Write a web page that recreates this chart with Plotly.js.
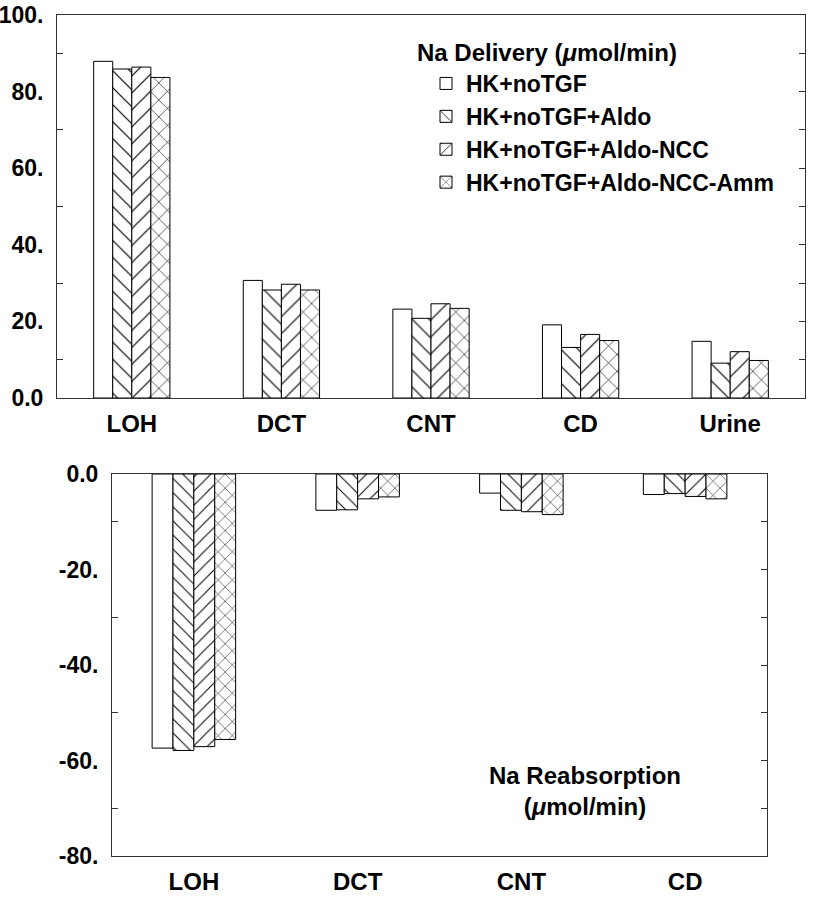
<!DOCTYPE html>
<html>
<head>
<meta charset="utf-8">
<script src="https://cdn.plot.ly/plotly-3.0.1.min.js"></script>
<style>html,body{margin:0;padding:0;background:#fff;}#chart{width:822px;height:898px;}</style>
</head>
<body>
<div id="chart"></div>
<script>
// ---- data ----
const categoriesTop = ['LOH', 'DCT', 'CNT', 'CD', 'Urine'];
const categoriesBottom = ['LOH', 'DCT', 'CNT', 'CD'];
const seriesNames = ['HK+noTGF', 'HK+noTGF+Aldo', 'HK+noTGF+Aldo-NCC', 'HK+noTGF+Aldo-NCC-Amm'];

const deliveryHK          = [87.9, 30.7, 23.2, 19.1, 14.8];
const deliveryAldo        = [85.9, 28.2, 20.8, 13.2, 9.1];
const deliveryAldoNCC     = [86.4, 29.7, 24.6, 16.6, 12.1];
const deliveryAldoNCCAmm  = [83.7, 28.2, 23.4, 15.0, 9.8];

const reabsHK         = [-57.4, -7.6, -4.0, -4.3];
const reabsAldo       = [-57.9, -7.5, -7.6, -4.1];
const reabsAldoNCC    = [-57.1, -5.2, -7.9, -4.7];
const reabsAldoNCCAmm = [-55.6, -4.8, -8.5, -5.2];

const topTickVals = [0, 20, 40, 60, 80, 100];
const topTickText = ['0.0', '20.', '40.', '60.', '80.', '100.'];
const topMinorTicks = [10, 30, 50, 70, 90];
const topRightTicks = [10, 20, 30, 40, 50, 60, 70, 80, 90];

const botTickVals = [-80, -60, -40, -20, 0];
const botTickText = ['-80.', '-60.', '-40.', '-20.', '0.0'];
const botMinorTicks = [-70, -50, -30, -10];
const botRightTicks = [-70, -60, -50, -40, -30, -20, -10];

const legendTitle = 'Na Delivery (<i>μ</i>mol/min)';
const reabsLabel = 'Na Reabsorption<br>(<i>μ</i>mol/min)';

// ---- styles ----
const FONT = 'Liberation Sans, Arial, Helvetica, sans-serif';
const shapes = ['', '\\', '/', 'x'];
const deliverySeries = [deliveryHK, deliveryAldo, deliveryAldoNCC, deliveryAldoNCCAmm];
const reabsSeries = [reabsHK, reabsAldo, reabsAldoNCC, reabsAldoNCCAmm];

function marker(i, size) {
  return {
    color: '#ffffff',
    line: {color: '#000000', width: 1},
    pattern: {shape: shapes[i], size: size, solidity: 0.1, fgcolor: '#000000', bgcolor: '#ffffff'}
  };
}

const traces = [];
seriesNames.forEach((name, i) => {
  traces.push({
    type: 'bar', name: name, x: categoriesTop, y: deliverySeries[i],
    xaxis: 'x', yaxis: 'y', marker: marker(i, 12), legendgroup: name, showlegend: true,
    hoverinfo: 'x+y+name'
  });
});
seriesNames.forEach((name, i) => {
  traces.push({
    type: 'bar', name: name, x: categoriesBottom, y: reabsSeries[i],
    xaxis: 'x2', yaxis: 'y2', marker: marker(i, 10), legendgroup: name, showlegend: false,
    hoverinfo: 'x+y+name'
  });
});
// invisible traces to carry the right-hand tick axes
traces.push({type: 'scatter', mode: 'none', x: categoriesTop, y: deliveryHK, xaxis: 'x', yaxis: 'y3', showlegend: false, hoverinfo: 'skip'});
traces.push({type: 'scatter', mode: 'none', x: categoriesBottom, y: reabsHK, xaxis: 'x2', yaxis: 'y4', showlegend: false, hoverinfo: 'skip'});

const W = 822, H = 898;
const axLine = {showline: true, linecolor: '#333333', linewidth: 1, mirror: true, showgrid: false, zeroline: false};
const tickFont = {family: FONT, size: 23, color: '#000', weight: 'bold'};
const catFont = {family: FONT, size: 24, color: '#000', weight: 'bold'};
const textFont = {family: FONT, size: 24, color: '#000', weight: 'bold'};

const topY = [1 - 398 / H, 1 - 15 / H];
const botY = [1 - 856 / H, 1 - 474 / H];

const layout = {
  width: W, height: H,
  margin: {l: 0, r: 0, t: 0, b: 0},
  paper_bgcolor: '#ffffff', plot_bgcolor: '#ffffff',
  barmode: 'group', bargap: 0.49, bargroupgap: 0,
  font: {family: FONT, color: '#000'},
  xaxis: Object.assign({}, axLine, {
    domain: [57 / W, 805 / W], anchor: 'y', type: 'category',
    range: [-0.5, 4.5], ticks: '', tickfont: catFont, ticklabelstandoff: 4
  }),
  yaxis: Object.assign({}, axLine, {
    domain: topY, anchor: 'x', range: [0, 100],
    tickmode: 'array', tickvals: topTickVals, ticktext: topTickText, ticks: '',
    tickfont: tickFont, ticklabelstandoff: 8,
    minor: {tickmode: 'array', tickvals: topMinorTicks, ticks: 'inside', ticklen: 6, tickcolor: '#333', showgrid: false}
  }),
  yaxis3: {
    overlaying: 'y', side: 'right', anchor: 'x', range: [0, 100], showline: false, showgrid: false, zeroline: false,
    tickmode: 'array', tickvals: topRightTicks, ticks: 'inside', ticklen: 6, tickcolor: '#333', showticklabels: false
  },
  xaxis2: Object.assign({}, axLine, {
    domain: [112 / W, 767 / W], anchor: 'y2', type: 'category',
    range: [-0.5, 3.5], ticks: '', tickfont: catFont, ticklabelstandoff: 4
  }),
  yaxis2: Object.assign({}, axLine, {
    domain: botY, anchor: 'x2', range: [-80, 0],
    tickmode: 'array', tickvals: botTickVals, ticktext: botTickText, ticks: '',
    tickfont: tickFont, ticklabelstandoff: 8,
    minor: {tickmode: 'array', tickvals: botMinorTicks, ticks: 'inside', ticklen: 6, tickcolor: '#333', showgrid: false}
  }),
  yaxis4: {
    overlaying: 'y2', side: 'right', anchor: 'x2', range: [-80, 0], showline: false, showgrid: false, zeroline: false,
    tickmode: 'array', tickvals: botRightTicks, ticks: 'inside', ticklen: 6, tickcolor: '#333', showticklabels: false
  },
  legend: {
    x: 426 / W, y: 1 - 62 / H, xanchor: 'left', yanchor: 'top',
    bgcolor: 'rgba(0,0,0,0)', borderwidth: 0,
    font: {family: FONT, size: 23, color: '#000', weight: 'bold'},
    traceorder: 'normal', itemclick: false, itemdoubleclick: false
  },
  annotations: [{
    xref: 'paper', yref: 'paper', x: 415 / W, y: 1 - 53 / H, xanchor: 'left', yanchor: 'middle',
    text: legendTitle, showarrow: false, font: textFont
  }, {
    xref: 'x2 domain', yref: 'y2 domain', x: 0.722, y: 0.17, xanchor: 'center', yanchor: 'middle',
    text: reabsLabel, showarrow: false, align: 'center', font: textFont
  }],
  showlegend: true
};

Plotly.newPlot('chart', traces, layout, {displayModeBar: false, staticPlot: true});
</script>
</body>
</html>
